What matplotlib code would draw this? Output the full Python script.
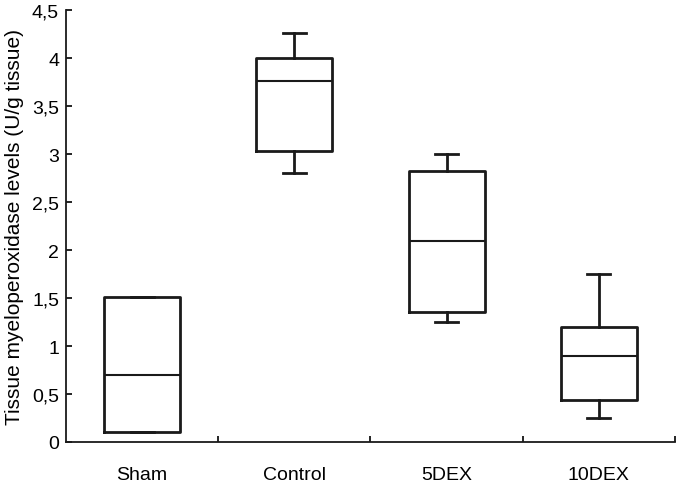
import matplotlib
matplotlib.use("Agg")
import matplotlib.pyplot as plt
from matplotlib.ticker import FuncFormatter

plt.rcParams['font.family'] = ['Liberation Sans', 'DejaVu Sans']

groups = ["Sham", "Control", "5DEX", "10DEX"]
whislo = [0.10, 2.80, 1.25, 0.25]
q1 = [0.10, 3.03, 1.35, 0.44]
med = [0.70, 3.76, 2.09, 0.90]
q3 = [1.51, 4.00, 2.82, 1.20]
whishi = [1.51, 4.26, 3.00, 1.75]

stats = []
for i, g in enumerate(groups):
    stats.append({"label": g, "whislo": whislo[i], "q1": q1[i], "med": med[i],
                  "q3": q3[i], "whishi": whishi[i], "fliers": []})

fig = plt.figure(figsize=(6.77, 4.85), dpi=100)
ax = fig.add_axes([0.0975, 0.0866, 0.8995, 0.8907])

box_lw = 2.0
ax.bxp(stats, positions=[1, 2, 3, 4], widths=0.5, showfliers=False,
       boxprops=dict(color="#1a1a1a", linewidth=box_lw),
       medianprops=dict(color="#1a1a1a", linewidth=1.5),
       whiskerprops=dict(color="#1a1a1a", linewidth=box_lw),
       capprops=dict(color="#1a1a1a", linewidth=box_lw),
       capwidths=0.15)

ax.set_xlim(0.5, 4.5)
ax.set_ylim(0, 4.5)
ax.set_yticks([0, 0.5, 1, 1.5, 2, 2.5, 3, 3.5, 4, 4.5])
ax.yaxis.set_major_formatter(FuncFormatter(lambda v, p: ("%g" % v).replace(".", ",")))
ax.set_xticks([1, 2, 3, 4])
ax.set_xticklabels(groups)
ax.set_xticks([1.5, 2.5, 3.5, 4.5], minor=True)
ax.tick_params(axis="x", which="major", length=0, pad=17, labelsize=14)
ax.tick_params(axis="x", which="minor", direction="in", length=4, width=1.2)
ax.tick_params(axis="y", direction="in", length=4, width=1.2, labelsize=14, pad=5)

for s in ["top", "right"]:
    ax.spines[s].set_visible(False)
for s in ["left", "bottom"]:
    ax.spines[s].set_linewidth(1.3)
    ax.spines[s].set_color("#1a1a1a")

ax.set_ylabel("Tissue myeloperoxidase levels (U/g tissue)", fontsize=15, labelpad=6)

fig.savefig("out.png", dpi=100)
